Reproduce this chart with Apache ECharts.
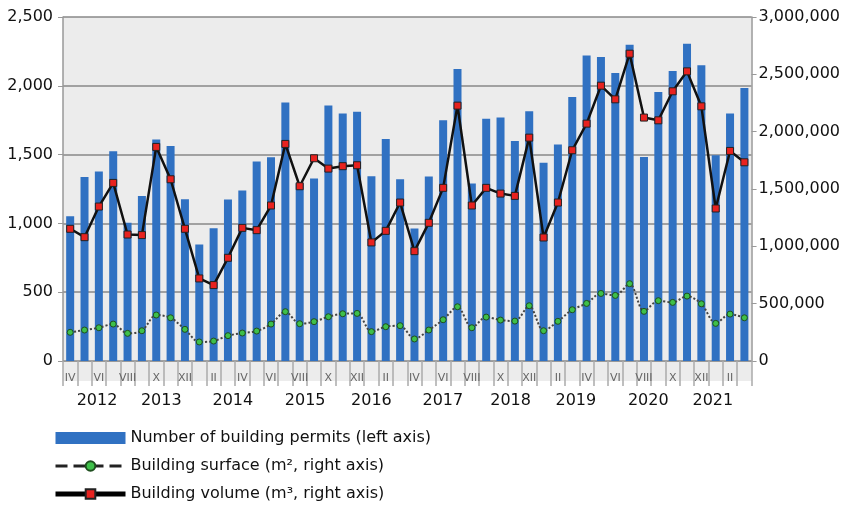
<!DOCTYPE html>
<html>
<head>
<meta charset="utf-8">
<script src="https://cdn.jsdelivr.net/npm/echarts@6/dist/echarts.min.js"></script>
<style>html,body{margin:0;padding:0;background:#fff}#c{width:843px;height:505px}</style>
</head>
<body>
<div id="c"></div>
<script>
const months = ['IV','V','VI','VII','VIII','IX','X','XI','XII','I','II','III',
  'IV','V','VI','VII','VIII','IX','X','XI','XII','I','II','III',
  'IV','V','VI','VII','VIII','IX','X','XI','XII','I','II','III',
  'IV','V','VI','VII','VIII','IX','X','XI','XII','I','II','III'];
const years = ['2012','2013','2014','2015','2016','2017','2018','2019','2020','2021'];
const yearTickPos = [2.37, 6.85, 11.84, 16.88, 21.5, 26.48, 31.2, 35.75, 40.8, 45.3];
const permits = [1052,1338,1377,1524,1004,1200,1609,1563,1176,847,
  965,1173,1239,1449,1481,1878,1290,1326,1856,1798,
  1812,1343,1614,1321,963,1340,1749,2122,1290,1761,
  1769,1599,1815,1440,1573,1919,2221,2209,2093,2299,
  1483,1955,2107,2306,2149,1495,1798,1984];
const volume = [1153000,1080000,1347000,1553000,1103000,1098000,1867000,1585000,1153000,720000,
  662000,900000,1161000,1141000,1356000,1893000,1524000,1768000,1678000,1699000,
  1707000,1034000,1135000,1382000,958000,1205000,1510000,2227000,1356000,1510000,
  1460000,1440000,1948000,1077000,1382000,1838000,2070000,2401000,2282000,2680000,
  2123000,2099000,2352000,2526000,2221000,1330000,1832000,1733000];
const surface = [250000,270000,290000,322000,241000,264000,401000,377000,276000,166000,
  174000,221000,244000,261000,322000,430000,325000,343000,386000,412000,
  415000,256000,299000,308000,192000,270000,360000,473000,290000,383000,
  357000,348000,482000,264000,346000,447000,502000,589000,572000,674000,
  433000,526000,511000,566000,499000,328000,409000,377000];
const seriesNames = ['Number of building permits (left axis)','Building surface (m\u00b2, right axis)','Building volume (m\u00b3, right axis)'];

const F = 'DejaVu Sans';
const fmt = v => Number(v).toLocaleString('en-US');
const chart = echarts.init(document.getElementById('c'), null, {renderer:'canvas'});
chart.setOption({
  animation:false,
  textStyle:{fontFamily:F},
  graphic:[{type:'rect', z:-1, shape:{x:63,y:362,width:689,height:19}, style:{fill:'#ececec'}}],
  grid:{left:63, right:91, top:17, bottom:144, show:true, backgroundColor:'#ececec', borderWidth:0},
  legend:{orient:'vertical', left:53, top:430, padding:0, itemWidth:70, itemHeight:12, itemGap:12,
    textStyle:{fontFamily:F, fontSize:16, color:'#111'},
    data:[
      {name:seriesNames[0], icon:'rect'},
      {name:seriesNames[1], lineStyle:{type:'dashed', width:3, color:'#222'}},
      {name:seriesNames[2], lineStyle:{width:5, color:'#000'}}
    ]},
  xAxis:[
    {type:'category', data:months, boundaryGap:true,
     axisLine:{show:true, lineStyle:{color:'#999'}},
     axisTick:{show:true, interval:0, length:25, lineStyle:{color:'#aaa', width:1.5}},
     axisLabel:{interval:1, margin:12, fontSize:11, color:'#666', fontFamily:F}},
    {type:'value', min:0, max:48, position:'bottom',
     axisLine:{show:false}, axisTick:{show:false}, splitLine:{show:false},
     axisLabel:{customValues:yearTickPos, margin:32, fontSize:16, color:'#111', fontFamily:F,
       formatter:v => { const i = yearTickPos.indexOf(v); return i >= 0 ? years[i] : ''; }}}
  ],
  yAxis:[
    {type:'value', min:0, max:2500, interval:500,
     axisLine:{show:true, lineStyle:{color:'#999', width:1.5}},
     axisTick:{show:true, length:5, lineStyle:{color:'#999'}},
     splitLine:{show:true, lineStyle:{color:'#888', width:1.5}},
     axisLabel:{formatter:fmt, fontSize:16, color:'#111', margin:10, fontFamily:F}},
    {type:'value', min:0, max:3000000, interval:500000, position:'right',
     axisLine:{show:true, lineStyle:{color:'#999', width:1.5}},
     axisTick:{show:true, length:5, lineStyle:{color:'#999'}},
     splitLine:{show:false},
     axisLabel:{formatter:fmt, fontSize:16, color:'#111', margin:7, fontFamily:F}}
  ],
  series:[
    {name:seriesNames[0], type:'bar', data:permits, yAxisIndex:0, barWidth:8,
     itemStyle:{color:'#3071c2'}},
    {name:seriesNames[1], type:'line', data:surface, yAxisIndex:1, smooth:0.3,
     symbol:'circle', symbolSize:6,
     lineStyle:{type:'dotted', width:2, color:'#444'},
     itemStyle:{color:'#3ec04a', borderColor:'#1f4f1f', borderWidth:1}},
    {name:seriesNames[2], type:'line', data:volume, yAxisIndex:1,
     symbol:'rect', symbolSize:7,
     lineStyle:{width:2.5, color:'#111'},
     itemStyle:{color:'#e8221f', borderColor:'#222', borderWidth:1}}
  ]
});
</script>
</body>
</html>
